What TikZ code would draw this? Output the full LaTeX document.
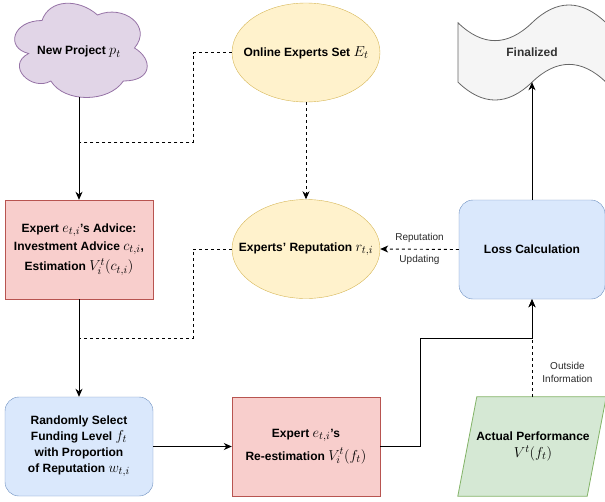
\documentclass[tikz,border=0pt]{standalone}
\usepackage{fontspec}
\setmainfont{Liberation Sans}
\DeclareMathSizes{12}{14.5}{10.5}{8}
\usetikzlibrary{arrows.meta,shapes.geometric,calc}
\definecolor{redfill}{HTML}{F8CECC}
\definecolor{redline}{HTML}{B85450}
\definecolor{bluefill}{HTML}{DAE8FC}
\definecolor{blueline}{HTML}{6C8EBF}
\definecolor{yelfill}{HTML}{FFF2CC}
\definecolor{yelline}{HTML}{D6B656}
\definecolor{grnfill}{HTML}{D5E8D4}
\definecolor{grnline}{HTML}{82B366}
\definecolor{purfill}{HTML}{E1D5E7}
\definecolor{purline}{HTML}{9673A6}
\definecolor{greyfill}{HTML}{F5F5F5}
\definecolor{greyline}{HTML}{666666}
\definecolor{greytext}{HTML}{333333}
\tikzset{
  boxtext/.style={font=\bfseries\fontsize{12}{15}\selectfont, align=center},
  redbox/.style={boxtext, draw=redline, fill=redfill, minimum width=148pt, minimum height=99pt, inner sep=0pt},
  bluebox/.style={boxtext, draw=blueline, fill=bluefill, rounded corners=14pt, minimum width=148pt, minimum height=99pt, inner sep=0pt},
  yelell/.style={ellipse, draw=yelline, fill=yelfill, minimum width=148pt, minimum height=99pt, inner sep=0pt},
  ghost/.style={boxtext, minimum width=148pt, minimum height=99pt, inner sep=0pt},
  solidarrow/.style={line width=0.9pt, -{Stealth[length=8pt,width=7pt,inset=2.5pt]}},
  dasharrow/.style={line width=0.9pt, dash pattern=on 3pt off 3pt, -{Stealth[length=8pt,width=7pt,inset=2.5pt]}},
  dashline/.style={line width=0.9pt, dash pattern=on 3pt off 3pt},
  smalllab/.style={font=\fontsize{10}{13}\selectfont, text=greytext!80!black, inner sep=0pt, align=center},
}
\begin{document}
\begin{tikzpicture}[x=1pt,y=-1pt]
\useasboundingbox (0,0) rectangle (605,501);

% cloud
\draw[draw=purline, fill=purfill, line width=0.8pt]
  (42,20.5) .. controls (12.4,20.5) and (5,48) .. (28.68,53.5)
  .. controls (5,65.6) and (31.64,92) .. (50.88,81)
  .. controls (64.2,103) and (108.6,103) .. (123.4,81)
  .. controls (153,81) and (153,59) .. (134.5,48)
  .. controls (153,26) and (123.4,4) .. (97.5,15)
  .. controls (79,-1.5) and (49.4,-1.5) .. (42,20.5) -- cycle;
\node[boxtext] (proj) at (79,52) {New Project $p_t$};
\coordinate (cloudbot) at (79,97);

% tape
\draw[draw=greyline, fill=greyfill, line width=0.8pt]
  (458,22.8) .. controls (482.67,46.56) and (507.33,46.56) .. (532,22.8)
  .. controls (556.67,-0.96) and (581.33,-0.96) .. (606,22.8)
  -- (606,82.2)
  .. controls (581.33,58.44) and (556.67,58.44) .. (532,82.2)
  .. controls (507.33,105.96) and (482.67,105.96) .. (458,82.2) -- cycle;
\node[boxtext, text=greytext] (fin) at (532,52) {Finalized};
\coordinate (finbot) at (532,82.2);

% ellipses
\node[yelell, label={[boxtext]center:Online Experts Set $E_t$}] (Et) at (306,52.5) {};
\node[yelell, label={[boxtext]center:Experts' Reputation $r_{t,i}$}] (rep) at (306,249) {};

% boxes
\node[redbox] (advice) at (79,249.5) {Expert $e_{t,i}$'s Advice:\\[3pt] Investment Advice $c_{t,i}$,\\[3pt] Estimation $V_i^t(c_{t,i})$};
\node[bluebox, minimum width=146pt] (loss) at (532,249.5) {Loss Calculation};
\node[bluebox] (select) at (79,446.5) {Randomly Select\\[1pt] Funding Level $f_t$\\[1pt] with Proportion\\[1pt] of Reputation $w_{t,i}$};
\node[redbox] (reest) at (306,446.5) {Expert $e_{t,i}$'s\\[5pt] Re-estimation $V_i^t(f_t)$};
\node[ghost] (actual) at (532,446.5) {};
\draw[draw=grnline, fill=grnfill, line width=0.8pt]
  (actual.south west) -- ($(actual.north west)+(19,0)$) -- (actual.north east)
  -- ($(actual.south east)+(-19,0)$) -- cycle;
\node[boxtext] (actualtext) at (533,446.5) {Actual Performance\\[2pt] $V^t(f_t)$};

% helper coordinates
\coordinate (d1) at (193,142);
\coordinate (d1end) at (79,142);
\coordinate (d2) at (193,338);
\coordinate (d2end) at (79,338);
\coordinate (j1) at (420,338);

% connectors
\draw[solidarrow] (cloudbot) -- (advice.north);
\draw[dashline] (Et.west) -| (d1) -- (d1end);
\draw[dasharrow] (Et.south) -- (rep.north);
\draw[dasharrow] (loss.west) -- node[smalllab, above=6pt]{Reputation} node[smalllab, below=6pt]{Updating} (rep.east);
\draw[dashline] (rep.west) -| (d2) -- (d2end);
\draw[solidarrow] (advice.south) -- (select.north);
\draw[solidarrow] (select.east) -- (reest.west);
\draw[solidarrow] (reest.east) -| (j1) -| (loss.south);
\draw[dasharrow] (actual.north) -- node[smalllab, pos=0.25, right=10pt]{Outside\\ Information} (loss.south);
\draw[solidarrow] (loss.north) -- (finbot);
\end{tikzpicture}
\end{document}
